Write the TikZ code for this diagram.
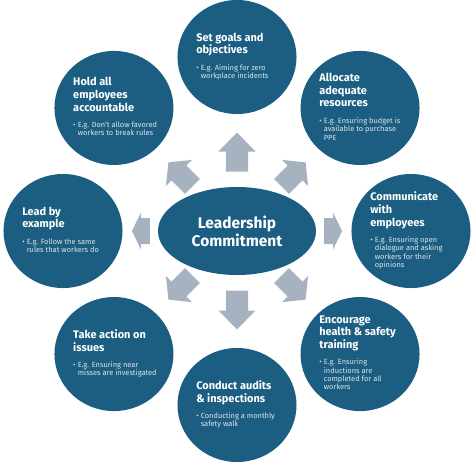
\documentclass[tikz,border=0pt]{standalone}
\usepackage{fontspec}
\setmainfont{Fira Sans}
\usetikzlibrary{shapes.geometric,calc}

\definecolor{topicblue}{HTML}{1B5E81}
\definecolor{arrowgray}{HTML}{A7B2C0}
\definecolor{tipwhite}{HTML}{DDE4EA}

\newcommand{\hubsize}{\fontsize{11}{12.8}\selectfont}
\newcommand{\titlesize}{\fontsize{7.8}{9}\selectfont}
\newcommand{\tipsize}{\fontsize{5.3}{6}\selectfont}
% bullet line under each title
\newcommand{\tipbox}[1]{{\normalfont\tipsize\color{tipwhite}%
  \begin{tabular}[t]{@{}l@{\hspace{1.5pt}}l@{}}\textbullet&\begin{tabular}[t]{@{}l@{}}#1\end{tabular}\end{tabular}}}

\tikzset{
  topic/.style={ellipse,fill=topicblue,minimum width=2.975cm,minimum height=2.85cm,inner sep=0pt},
  topictxt/.style={anchor=west,align=left,text=white,font=\titlesize\bfseries,inner sep=0pt},
  hub/.style={ellipse,fill=topicblue,minimum width=3.95cm,minimum height=2.2cm,inner sep=0pt,
    align=center,text=white,font=\hubsize\bfseries},
  pics/blockarrow/.style n args={3}{code={
    \fill[arrowgray] (-#1/2,-#3/2) -- (#1/2-#2,-#3/2) -- (#1/2-#2,-18.5) -- (#1/2,0)
      -- (#1/2-#2,18.5) -- (#1/2-#2,#3/2) -- (-#1/2,#3/2) -- cycle;}}
}

\begin{document}
\begin{tikzpicture}[x=0.025cm,y=0.025cm]
\useasboundingbox (-237,-232) rectangle (237,231);

\node[hub] (hub) at (0,0) {Leadership\\Commitment};

\node[topic] (goals) at (90:174) {};
\node[topic] (alloc) at (45:174) {};
\node[topic] (comm) at (0:174) {};
\node[topic] (train) at (-45:174) {};
\node[topic] (audits) at (-90:174) {};
\node[topic] (action) at (-135:174) {};
\node[topic] (lead) at (180:174) {};
\node[topic] (hold) at (135:174) {};

\node[topictxt] (goals-txt) at ($(goals)+(-41,0)$) {Set goals and\\objectives\\[2.5pt]
  \tipbox{E.g. Aiming for zero\\workplace incidents}};
\node[topictxt] (alloc-txt) at ($(alloc)+(-41,0)$) {Allocate\\adequate\\resources\\[2.5pt]
  \tipbox{E.g. Ensuring budget is\\available to purchase\\PPE}};
\node[topictxt] (comm-txt) at ($(comm)+(-41,0)$) {Communicate\\with\\employees\\[2.5pt]
  \tipbox{E.g. Ensuring open\\dialogue and asking\\workers for their\\opinions}};
\node[topictxt] (train-txt) at ($(train)+(-41,0)$) {Encourage\\health \& safety\\training\\[2.5pt]
  \tipbox{E.g. Ensuring\\inductions are\\completed for all\\workers}};
\node[topictxt] (audits-txt) at ($(audits)+(-41,0)$) {Conduct audits\\\& inspections\\[2.5pt]
  \tipbox{Conducting a monthly\\safety walk}};
\node[topictxt] (action-txt) at ($(action)+(-41,0)$) {Take action on\\issues\\[2.5pt]
  \tipbox{E.g. Ensuring near\\misses are investigated}};
\node[topictxt] (lead-txt) at ($(lead)+(-41,0)$) {Lead by\\example\\[2.5pt]
  \tipbox{E.g. Follow the same\\rules that workers do}};
\node[topictxt] (hold-txt) at ($(hold)+(-41,0)$) {Hold all\\employees\\accountable\\[2.5pt]
  \tipbox{E.g. Don't allow favored\\workers to break rules}};

% block arrows from the hub outwards
\pic[rotate=90] at ($(hub)!0.454!(goals)$) {blockarrow={39}{19}{22}};
\pic[rotate=-90] at ($(hub)!0.454!(audits)$) {blockarrow={39}{19}{22}};
\pic[rotate=0] at ($(hub)!0.552!(comm)$) {blockarrow={18}{9}{26}};
\pic[rotate=180] at ($(hub)!0.552!(lead)$) {blockarrow={18}{9}{26}};
\pic[rotate=45] at ($(hub)!0.46!(alloc)$) {blockarrow={34}{15}{21}};
\pic[rotate=135] at ($(hub)!0.46!(hold)$) {blockarrow={34}{15}{21}};
\pic[rotate=-135] at ($(hub)!0.46!(action)$) {blockarrow={34}{15}{21}};
\pic[rotate=-45] at ($(hub)!0.46!(train)$) {blockarrow={34}{15}{21}};
\end{tikzpicture}
\end{document}
